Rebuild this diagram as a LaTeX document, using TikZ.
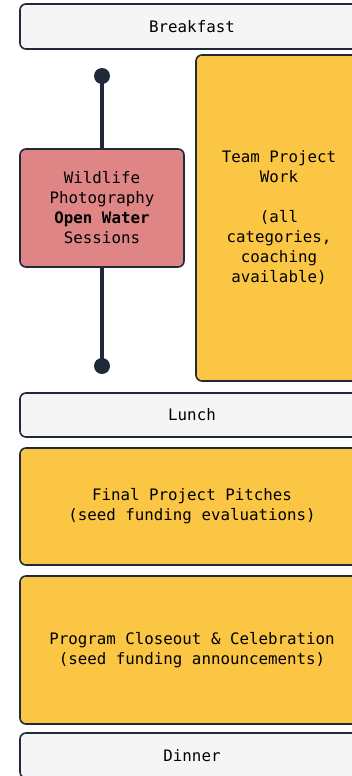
\documentclass[tikz,border=0pt]{standalone}
\usepackage{fontspec}
\setmainfont{DejaVu Sans Mono}
\setmonofont{DejaVu Sans Mono}
\definecolor{edge}{HTML}{1F2937}
\definecolor{mealfill}{HTML}{F5F5F5}
\definecolor{workfill}{HTML}{FCC645}
\definecolor{redfill}{HTML}{E08585}
\tikzset{
  box/.style={draw=edge, line width=1.6pt, rounded corners=6pt, align=center,
    inner sep=0pt, font=\fontsize{15.8}{20}\selectfont, text=black},
  meal/.style={box, fill=mealfill},
  work/.style={box, fill=workfill},
  redbox/.style={box, fill=redfill},
  dot/.style={circle, fill=edge, draw=none, minimum size=16pt, inner sep=0pt},
  stem/.style={draw=edge, line width=4pt}
}
\begin{document}
\begin{tikzpicture}[x=1pt,y=-1pt]
\useasboundingbox (0,0) rectangle (352,776);
\fill[white] (0,0) rectangle (352,776);
\node[meal, minimum width=344pt, minimum height=45pt] (breakfast) at (192,26.5) {Breakfast};
\node[work, minimum width=166pt, minimum height=326pt] (team) at (279,218)
  {Team Project\\Work\\[20pt](all\\categories,\\coaching\\available)};
\node[dot] (d1) at (102,76) {};
\node[dot] (d2) at (102,366) {};
\node[redbox, minimum width=164pt, minimum height=118pt] (wild) at (102,208)
  {Wildlife\\Photography\\\textbf{Open Water}\\Sessions};
\draw[stem] (d1.center) -- (wild.north);
\draw[stem] (wild.south) -- (d2.center);
\node[meal, minimum width=344pt, minimum height=44pt] (lunch) at (192,415) {Lunch};
\node[work, minimum width=344pt, minimum height=117pt] (pitch) at (192,506.5)
  {Final Project Pitches\\(seed funding evaluations)};
\node[work, minimum width=344pt, minimum height=148pt] (close) at (192,650)
  {Program Closeout \& Celebration\\(seed funding announcements)};
\node[meal, minimum width=344pt, minimum height=45pt] (dinner) at (192,755.5) {Dinner};
\end{tikzpicture}
\end{document}
